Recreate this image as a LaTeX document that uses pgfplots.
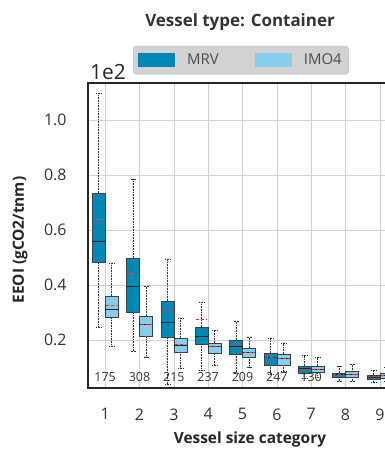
\documentclass[border=0pt]{standalone}
\usepackage{pgfplots}
\pgfplotsset{compat=1.18}
\usepgfplotslibrary{statistics}
\usepackage{fontspec}
\setmainfont{Open Sans}
\definecolor{mrv}{HTML}{0088B6}
\definecolor{imo}{HTML}{86CDEE}
\newcommand{\bx}[7]{\addplot[boxplot prepared={draw direction=y, draw position=#1, lower whisker=#2, lower quartile=#3, median=#4, upper quartile=#5, upper whisker=#6}, fill=#7, draw=black!75, line width=0.5pt] coordinates {};}
\begin{document}
\begin{tikzpicture}
\path[use as bounding box] (0bp,0bp) rectangle (385bp,456bp);
\begin{axis}[
  at={(88bp,68bp)}, anchor=south west,
  scale only axis, width=309bp, height=305bp,
  xmin=0.5, xmax=9.5, ymin=0.025, ymax=1.135,
  xtick={1,...,9}, ytick={0.2,0.4,0.6,0.8,1.0},
  /pgf/number format/assume math mode=true,
  yticklabel style={/pgf/number format/fixed, /pgf/number format/fixed zerofill, /pgf/number format/precision=1, xshift=-18bp},
  major tick length=0pt,
  grid=major, major grid style={gray!35, line width=0.6pt},
  axis line style={black!85, line width=1.6pt},
  tick label style={font=\fontsize{16}{18}\selectfont, text=black!80},
  xticklabel style={yshift=-17bp},
  xlabel={Vessel size category}, ylabel={EEOI (gCO2/tnm)},
  label style={font=\bfseries\fontsize{15.5}{18}\selectfont, text=black!85},
  xlabel style={at={(axis description cs:0.524,-0.17)}, anchor=center},
  ylabel style={at={(axis description cs:-0.22,0.485)}, anchor=center},
  boxplot/draw direction=y,
  boxplot/box extend=0.38,
  boxplot/whisker extend=0.14,
  boxplot/every whisker/.style={densely dotted, black!80, line width=0.6pt},
  boxplot/every median/.style={black!85, line width=0.8pt},
  legend style={at={(axis description cs:0.495,1.075)}, anchor=center, legend columns=2,
    fill=gray!35, draw=gray!45, rounded corners=3pt, font=\fontsize{15}{17}\selectfont,
    text=black!70, /tikz/every even column/.append style={column sep=34bp},
    /tikz/every odd column/.append style={column sep=10bp}, inner xsep=5bp, inner ysep=6bp},
  legend image code/.code={\fill[#1, sharp corners] (0bp,-7bp) rectangle (37bp,7bp);},
  unbounded coords=jump,
  clip=false,
]
\addlegendimage{fill=mrv, draw=none}
\addlegendentry{MRV}
\addlegendimage{fill=imo, draw=none}
\addlegendentry{IMO4}
% MRV
\bx{0.81}{0.247}{0.484}{0.560}{0.735}{1.098}{mrv}
\bx{1.81}{0.160}{0.302}{0.393}{0.498}{0.785}{mrv}
\bx{2.81}{0.040}{0.211}{0.262}{0.342}{0.495}{mrv}
\bx{3.81}{0.090}{0.185}{0.211}{0.247}{0.338}{mrv}
\bx{4.81}{0.080}{0.149}{0.175}{0.200}{0.269}{mrv}
\bx{5.81}{0.075}{0.109}{0.135}{0.153}{0.207}{mrv}
\bx{6.81}{0.060}{0.080}{0.095}{0.105}{0.145}{mrv}
\bx{7.81}{0.050}{0.065}{0.073}{0.080}{0.105}{mrv}
\bx{8.81}{0.045}{0.058}{0.065}{0.072}{0.090}{mrv}
% IMO4
\bx{1.19}{0.175}{0.284}{0.310}{0.360}{0.480}{imo}
\bx{2.19}{0.138}{0.215}{0.255}{0.287}{0.396}{imo}
\bx{3.19}{0.098}{0.156}{0.180}{0.207}{0.280}{imo}
\bx{4.19}{0.109}{0.153}{0.175}{0.189}{0.236}{imo}
\bx{5.19}{0.102}{0.138}{0.153}{0.171}{0.211}{imo}
\bx{6.19}{0.085}{0.109}{0.131}{0.149}{0.189}{imo}
\bx{7.19}{0.065}{0.084}{0.094}{0.105}{0.135}{imo}
\bx{8.19}{0.050}{0.065}{0.075}{0.085}{0.113}{imo}
\bx{9.19}{0.048}{0.060}{0.070}{0.080}{0.100}{imo}
% means (red dashed)
\addplot[red!85, densely dashed, line width=0.9pt, forget plot] coordinates {
(0.65,0.636) (0.97,0.636) (0.97,nan)
(1.65,0.447) (1.97,0.447) (1.97,nan)
(2.65,0.302) (2.97,0.302) (2.97,nan)
(3.65,0.273) (3.97,0.273) (3.97,nan)
(4.65,0.180) (4.97,0.180) (4.97,nan)
(5.65,0.137) (5.97,0.137) (5.97,nan)
(6.65,0.093) (6.97,0.093) (6.97,nan)
(7.65,0.075) (7.97,0.075) (7.97,nan)
(8.65,0.066) (8.97,0.066) (8.97,nan)
(1.03,0.324) (1.35,0.324) (1.35,nan)
(2.03,0.258) (2.35,0.258) (2.35,nan)
(3.03,0.185) (3.35,0.185) (3.35,nan)
(4.03,0.175) (4.35,0.175) (4.35,nan)
(5.03,0.155) (5.35,0.155) (5.35,nan)
(6.03,0.131) (6.35,0.131) (6.35,nan)
(7.03,0.094) (7.35,0.094) (7.35,nan)
(8.03,0.075) (8.35,0.075) (8.35,nan)
(9.03,0.071) (9.35,0.071)
};
% counts
\foreach \i/\n in {1/175,2/308,3/215,4/237,5/209,6/247,7/130} {
  \edef\tmp{\noexpand\node[font=\noexpand\fontsize{12.5}{14}\noexpand\selectfont, text=black!80] at (axis cs:\i,0.065) {\n};}\tmp
}
\end{axis}
\node[font=\bfseries\fontsize{17}{19}\selectfont, text=black!80] at (240bp,434bp) {Vessel type: Container};
\node[font=\fontsize{21}{23}\selectfont, text=black!85] at (108bp,384bp) {1e2};
\end{tikzpicture}
\end{document}
